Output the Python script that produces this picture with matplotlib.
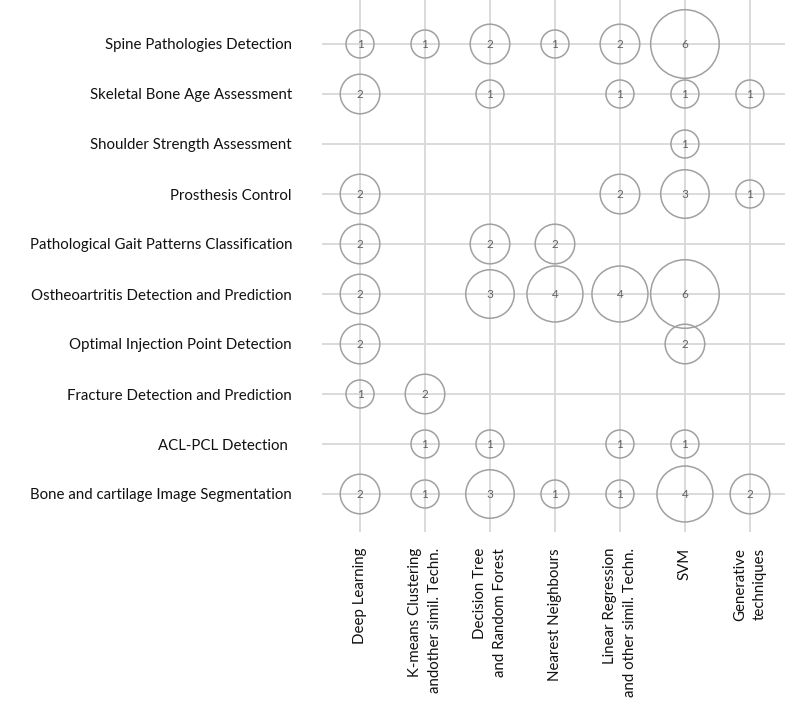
import numpy as np
import matplotlib
matplotlib.use('Agg')
import matplotlib.pyplot as plt

tasks = ['Spine Pathologies Detection', 'Skeletal Bone Age Assessment',
         'Shoulder Strength Assessment', 'Prosthesis Control',
         'Pathological Gait Patterns Classification',
         'Ostheoartritis Detection and Prediction',
         'Optimal Injection Point Detection', 'Fracture Detection and Prediction',
         'ACL-PCL Detection ', 'Bone and cartilage Image Segmentation']
methods = ['Deep Learning', 'K-means Clustering\nandother simil. Techn.',
           'Decision Tree\nand Random Forest', 'Nearest Neighbours',
           'Linear Regression\nand other simil. Techn.', 'SVM',
           'Generative\ntechniques']

# number of papers, rows = tasks, cols = methods (0 = none)
spine = [1, 1, 2, 1, 2, 6, 0]
skeletal = [2, 0, 1, 0, 1, 1, 1]
shoulder = [0, 0, 0, 0, 0, 1, 0]
prosthesis = [2, 0, 0, 0, 2, 3, 1]
gait = [2, 0, 2, 2, 0, 0, 0]
osteo = [2, 0, 3, 4, 4, 6, 0]
injection = [2, 0, 0, 0, 0, 2, 0]
fracture = [1, 2, 0, 0, 0, 0, 0]
acl = [0, 1, 1, 0, 1, 1, 0]
segmentation = [2, 1, 3, 1, 1, 4, 2]

counts = np.array([spine, skeletal, shoulder, prosthesis, gait, osteo,
                   injection, fracture, acl, segmentation])

plt.rcParams['font.family'] = ['Lato', 'DejaVu Sans']

W, H = 802, 710
fig = plt.figure(figsize=(W / 100, H / 100), dpi=100)
ax = fig.add_axes([322 / W, 1 - 532 / H, (785 - 322) / W, 532 / H])

rows, cols = np.nonzero(counts)
vals = counts[rows, cols]
ax.scatter(cols, rows, s=vals * 406, facecolors='none', edgecolors='#a0a0a0',
           linewidths=1.1, zorder=3)
for r, c, v in zip(rows, cols, vals):
    ax.text(c, r, str(v), ha='center', va='center', fontsize=8.5,
            color='#606060', zorder=4)

ax.set_xlim(-0.585, 6.54)
ax.set_ylim(9.76, -0.88)
ax.set_xticks(range(len(methods)))
ax.set_xticklabels(methods, rotation=90, va='top', ha='center',
                   multialignment='right', linespacing=1.5,
                   fontsize=10.8, color='#111111')
ax.set_yticks(range(len(tasks)))
ax.set_yticklabels(tasks, fontsize=10.8, color='#111111')
ax.tick_params(axis='both', length=0)
ax.tick_params(axis='x', pad=11.5)
ax.tick_params(axis='y', pad=21.6)
ax.grid(True, color='#d8d8d8', linewidth=1.3, zorder=0)
ax.set_axisbelow(True)
for s in ax.spines.values():
    s.set_visible(False)

fig.savefig('out.png', dpi=100)
